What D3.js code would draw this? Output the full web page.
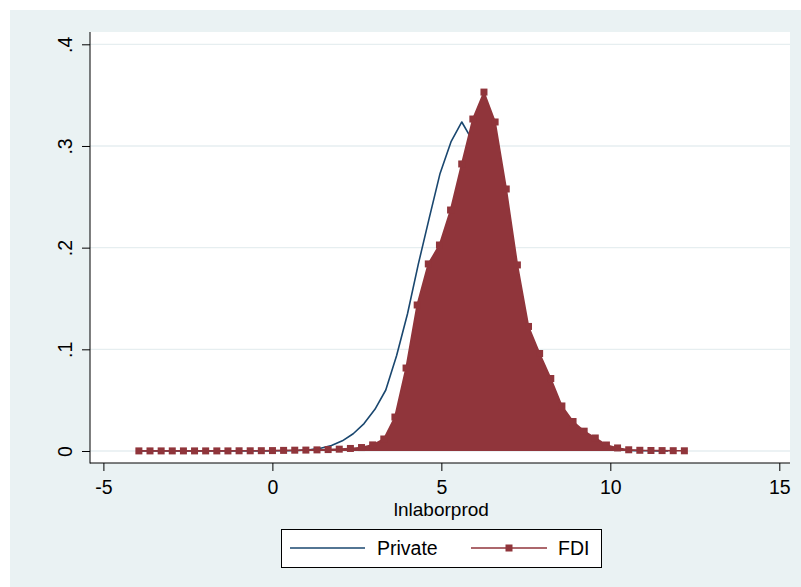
<!DOCTYPE html>
<html>
<head>
<meta charset="utf-8">
<script src="https://cdn.jsdelivr.net/npm/d3@7/dist/d3.min.js"></script>
<style>
  body { margin: 0; background: #ffffff; }
  text { font-family: "Liberation Sans", Arial, sans-serif; fill: #000; }
</style>
</head>
<body>
<svg id="chart" width="801" height="587"></svg>
<script>
// Kernel density estimates of lnlaborprod, 50 evaluation points each
const fdiX = [-3.950,-3.621,-3.291,-2.962,-2.632,-2.303,-1.974,-1.644,-1.315,-0.985,
              -0.656,-0.327, 0.003, 0.332, 0.662, 0.991, 1.320, 1.650, 1.979, 2.309,
               2.638, 2.967, 3.297, 3.626, 3.956, 4.285, 4.614, 4.944, 5.273, 5.603,
               5.932, 6.261, 6.591, 6.920, 7.250, 7.579, 7.908, 8.238, 8.567, 8.897,
               9.226, 9.555, 9.885,10.214,10.544,10.873,11.202,11.532,11.861,12.191];
const fdiDensity = [0.0001,0.0001,0.0001,0.0001,0.0001,0.0001,0.0001,0.0001,0.0001,0.0002,
                    0.0002,0.0003,0.0004,0.0006,0.0008,0.0009,0.0011,0.0014,0.0018,0.0025,
                    0.0034,0.0060,0.0118,0.0334,0.0816,0.1436,0.1840,0.2026,0.2370,0.2823,
                    0.3265,0.3530,0.3236,0.2577,0.1830,0.1225,0.0959,0.0713,0.0443,0.0290,
                    0.0195,0.0128,0.0059,0.0030,0.0012,0.0007,0.0005,0.0004,0.0003,0.0002];

const privX = [-4.034,-3.713,-3.391,-3.070,-2.749,-2.428,-2.106,-1.785,-1.464,-1.142,
               -0.821,-0.500,-0.178, 0.143, 0.464, 0.786, 1.107, 1.428, 1.749, 2.071,
                2.392, 2.713, 3.035, 3.356, 3.677, 3.999, 4.320, 4.641, 4.962, 5.284,
                5.605, 5.926, 6.248, 6.569, 6.890, 7.212, 7.533, 7.854, 8.175, 8.497,
                8.818, 9.139, 9.461, 9.782,10.103,10.425,10.746,11.067,11.388,11.710];
const privDensity = [0.0001,0.0001,0.0001,0.0001,0.0001,0.0001,0.0001,0.0001,0.0001,0.0001,
                     0.0001,0.0001,0.0001,0.0002,0.0003,0.0006,0.0012,0.0028,0.0054,0.0100,
                     0.0170,0.0270,0.0410,0.0600,0.0940,0.1350,0.1840,0.2290,0.2730,0.3040,
                     0.3236,0.3050,0.2800,0.2400,0.1900,0.1450,0.1050,0.0720,0.0480,0.0310,
                     0.0190,0.0110,0.0060,0.0030,0.0015,0.0008,0.0004,0.0002,0.0001,0.0001];

const xTicks = [-5, 0, 5, 10, 15];
const xTickLabels = ["-5", "0", "5", "10", "15"];
const yTicks = [0, 0.1, 0.2, 0.3, 0.4];
const yTickLabels = ["0", ".1", ".2", ".3", ".4"];
const xTitle = "lnlaborprod";
const seriesNames = ["Private", "FDI"];

const navy = "#1a476f";
const maroon = "#90353b";
const regionFill = "#eaf2f3";
const gridColor = "#e6eef0";
const fontSize = "19.5px";

const svg = d3.select("#chart");

// outer graph region and white plot region
const plot = { left: 90, right: 790, top: 32, bottom: 463 };
svg.append("rect").attr("x", 10).attr("y", 10).attr("width", 791).attr("height", 577)
   .attr("fill", regionFill);
svg.append("rect").attr("x", plot.left).attr("y", plot.top)
   .attr("width", plot.right - plot.left).attr("height", plot.bottom - plot.top)
   .attr("fill", "#ffffff");

const x = d3.scaleLinear().domain([-5, 15]).range([103.4, 779.3]);
const y = d3.scaleLinear().domain([0, 0.4]).range([451, 44.3]);

// horizontal grid lines
svg.append("g").selectAll("line").data(yTicks).join("line")
   .attr("x1", plot.left).attr("x2", plot.right)
   .attr("y1", d => y(d)).attr("y2", d => y(d))
   .attr("stroke", gridColor).attr("stroke-width", 1.3);

const lineGen = d3.line().x(d => x(d[0])).y(d => y(d[1]));
const privPts = privX.map((v, i) => [v, privDensity[i]]);
const fdiPts = fdiX.map((v, i) => [v, fdiDensity[i]]);

// Private density line
svg.append("path").datum(privPts)
   .attr("d", lineGen).attr("fill", "none")
   .attr("stroke", navy).attr("stroke-width", 1.6).attr("stroke-linejoin", "round");

// FDI: shaded density with connected square markers
const areaGen = d3.area().x(d => x(d[0])).y0(y(0)).y1(d => y(d[1]));
svg.append("path").datum(fdiPts).attr("d", areaGen).attr("fill", maroon);
svg.append("path").datum(fdiPts)
   .attr("d", lineGen).attr("fill", "none")
   .attr("stroke", maroon).attr("stroke-width", 1.6);
const ms = 7;
svg.append("g").selectAll("rect").data(fdiPts).join("rect")
   .attr("x", d => x(d[0]) - ms / 2).attr("y", d => y(d[1]) - ms / 2)
   .attr("width", ms).attr("height", ms).attr("fill", maroon);

// axes
const yAxis = d3.axisLeft(y).tickValues(yTicks).tickSize(8)
   .tickFormat((d, i) => yTickLabels[i]);
const gy = svg.append("g").attr("transform", `translate(${plot.left},0)`).call(yAxis);
gy.select(".domain").remove();
gy.selectAll(".tick line").attr("stroke", "#000");
gy.selectAll(".tick text")
  .attr("x", null).attr("dy", null)
  .attr("transform", "translate(-18,0) rotate(-90)")
  .attr("text-anchor", "middle")
  .style("font-size", fontSize).style("font-family", "Liberation Sans, Arial, sans-serif");

const xAxis = d3.axisBottom(x).tickValues(xTicks).tickSize(8)
   .tickFormat((d, i) => xTickLabels[i]);
const gx = svg.append("g").attr("transform", `translate(0,${plot.bottom})`).call(xAxis);
gx.select(".domain").remove();
gx.selectAll(".tick line").attr("stroke", "#000");
gx.selectAll(".tick text")
  .attr("y", 31).attr("dy", null)
  .style("font-size", fontSize).style("font-family", "Liberation Sans, Arial, sans-serif");

// axis lines
svg.append("line").attr("x1", plot.left).attr("x2", plot.left)
   .attr("y1", plot.top).attr("y2", plot.bottom + 0.5)
   .attr("stroke", "#000").attr("stroke-width", 1);
svg.append("line").attr("x1", plot.left).attr("x2", plot.right)
   .attr("y1", plot.bottom).attr("y2", plot.bottom)
   .attr("stroke", "#000").attr("stroke-width", 1);

// x-axis title
svg.append("text").attr("x", (x(-5) + x(15)) / 2).attr("y", 515.5)
   .attr("text-anchor", "middle").style("font-size", "19px").text(xTitle);

// legend
const lg = svg.append("g");
lg.append("rect").attr("x", 281.5).attr("y", 529.5).attr("width", 320).attr("height", 38)
  .attr("fill", "#fff").attr("stroke", "#000").attr("stroke-width", 1);
lg.append("line").attr("x1", 290).attr("x2", 365).attr("y1", 548).attr("y2", 548)
  .attr("stroke", navy).attr("stroke-width", 1.6);
lg.append("text").attr("x", 377).attr("y", 555).style("font-size", fontSize).text(seriesNames[0]);
lg.append("line").attr("x1", 471).attr("x2", 547).attr("y1", 548).attr("y2", 548)
  .attr("stroke", maroon).attr("stroke-width", 1.6);
lg.append("rect").attr("x", 509 - ms / 2).attr("y", 548 - ms / 2)
  .attr("width", ms).attr("height", ms).attr("fill", maroon);
lg.append("text").attr("x", 558).attr("y", 555).style("font-size", fontSize).text(seriesNames[1]);
</script>
</body>
</html>
